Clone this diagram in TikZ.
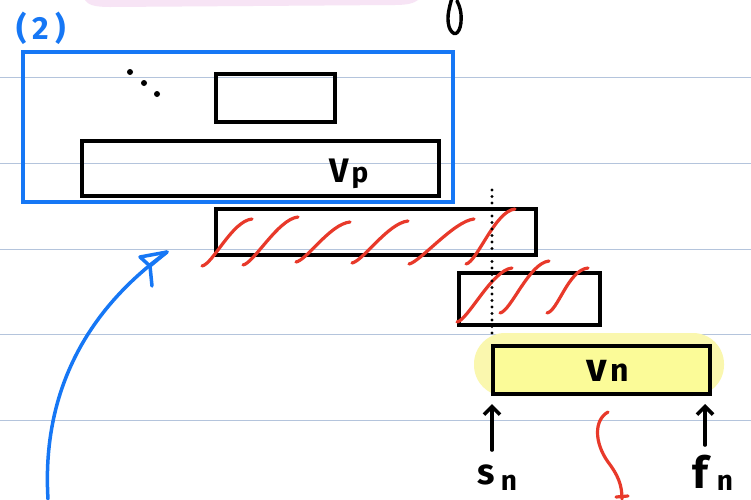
\documentclass[tikz,border=0pt]{standalone}
\usepackage{fontspec}
\setmainfont{Fira Sans}
\definecolor{rule}{HTML}{B4C4DC}
\definecolor{penblue}{HTML}{1677F5}
\definecolor{penred}{HTML}{E8392A}
\definecolor{hiyel}{HTML}{FAF7AE}
\definecolor{boxyel}{HTML}{FBFB98}
\definecolor{pinkish}{HTML}{F7E4F5}
\usetikzlibrary{arrows.meta}
\tikzset{
  box/.style={draw=black, line width=3.5pt, inner sep=0pt, anchor=north west},
  bluebox/.style={draw=penblue, line width=4pt, inner sep=0pt, anchor=north west},
  hatch/.style={draw=penred, line width=3.2pt, line cap=round},
  ruling/.style={draw=rule, line width=1pt},
  lbl/.style={inner sep=0pt, anchor=base},
  uparrow/.style={draw=black, line width=3.6pt, line cap=round, -{Straight Barb[length=8pt,width=16pt,line width=3.6pt]}},
}
\newcommand{\fsz}[1]{\bfseries\fontsize{#1}{#1}\selectfont}
\begin{document}
\begin{tikzpicture}[x=1pt,y=-1pt]
\useasboundingbox (0,0) rectangle (751,499);
\fill[white] (0,0) rectangle (751,499);
% pink blob at top
\fill[pinkish] (85,0) .. controls (88,5) and (95,7) .. (110,7) -- (395,5) .. controls (408,5) and (414,3) .. (418,0) -- cycle;
% ruled lines
\foreach \yy in {77,163,249,334,420} \draw[ruling] (0,\yy) -- (751,\yy);
% black glyph at top
\draw[black, line width=3.4pt, line cap=round] plot[smooth, tension=0.8] coordinates {(452,-2) (448,18) (452,32) (459,30) (461,14) (457,1)};
% (2)
\node[lbl, text=penblue, font=\fsz{32}] (two) at (41,39) {(\hspace{6pt}2\hspace{6pt})};
% blue group box
\node[bluebox, minimum width=430pt, minimum height=150pt] (grp) at (21,50) {};
% small box
\node[box, minimum width=119pt, minimum height=48pt] (small) at (214,72) {};
% dots
\fill (130,72) circle (3pt);
\fill (144,83) circle (3pt);
\fill (157,94) circle (3pt);
% vp box
\node[box, minimum width=357pt, minimum height=55pt] (vp) at (80,139) {};
\node[lbl, font=\fsz{34}] (vplbl) at (339,182) {V};
\node[lbl, font=\fsz{28}] (vpsub) at (360,182) {p};
% hatched boxes
\node[box, minimum width=320pt, minimum height=46pt] (h1) at (214,207) {};
\node[box, minimum width=141pt, minimum height=52pt] (h2) at (457,271) {};
% red hatches
\foreach \ax/\ay/\bx/\by in {202/266/252/219, 243/265/298/217, 296/262/350/222, 352/263/408/221, 409/264/474/219, 466/264/515/209, 457/322/512/268, 500/313/549/261, 547/313/588/268}
  \draw[hatch] (\ax,\ay) .. controls (\ax+11,\ay-2) and (\bx-20,\by+2) .. (\bx,\by);
% dotted line
\draw[black, line width=3.4pt, line cap=round, dash pattern=on 0pt off 6.5pt] (492,190) -- (492,338);
% highlight and vn box
\fill[hiyel, rounded corners=31pt] (474,333) rectangle (724,396);
\node[box, fill=boxyel, minimum width=217pt, minimum height=48pt] (vn) at (491,344) {};
\node[lbl, font=\fsz{40}] (vnv) at (597,381) {v};
\node[lbl, font=\fsz{32}] (vnn) at (620,381) {n};
% sn, fn
\coordinate (snTop) at (492,404);
\coordinate (snBot) at (492,450);
\coordinate (fnTop) at (705,404);
\coordinate (fnBot) at (705,445);
\draw[uparrow] (snBot) -- (snTop);
\draw[uparrow] (fnBot) -- (fnTop);
\node[lbl, font=\fsz{36}] (sn) at (486,484) {s};
\node[lbl, font=\fsz{28}] (snn) at (509,490) {n};
\node[lbl, font=\fsz{44}] (fn) at (700,488) {f};
\node[lbl, font=\fsz{28}] (fnn) at (725,490) {n};
% red curve
\draw[hatch] (608,412) .. controls (594,420) and (594,442) .. (608,462) .. controls (618,475) and (622,485) .. (622,499);
\draw[hatch] (616,497) -- (628,496);
% blue arrow
\coordinate (btail) at (48,499);
\coordinate (btip) at (167,252);
\draw[penblue, line width=3.5pt, line cap=round] (btail) .. controls (42,400) and (80,315) .. (btip);
\draw[penblue, line width=3.5pt, line cap=round, line join=round] (btip) -- (140,257) -- (150,266) -- (152,286);
\draw[penblue, line width=3.5pt, line cap=round] (btip) -- (150,266);
\end{tikzpicture}
\end{document}
